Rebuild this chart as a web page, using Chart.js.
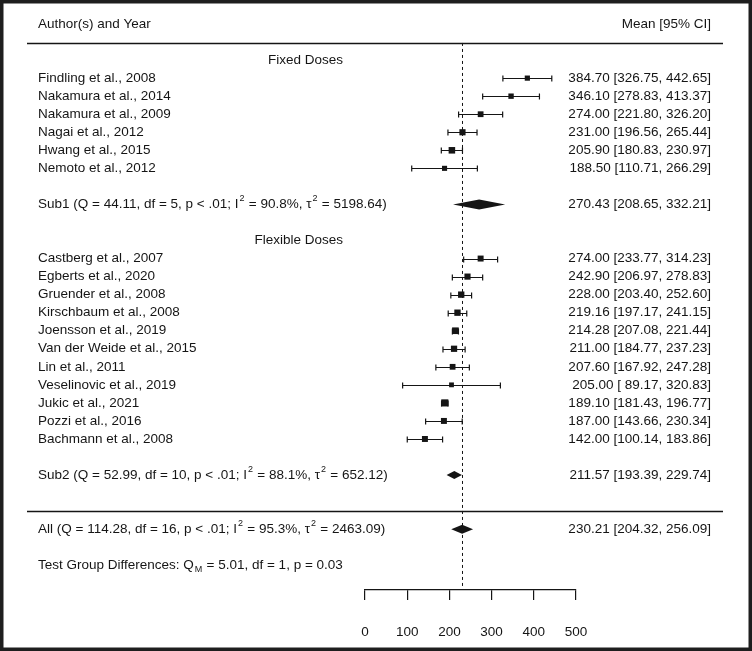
<!DOCTYPE html>
<html>
<head>
<meta charset="utf-8">
<script src="https://cdn.jsdelivr.net/npm/chart.js@4/dist/chart.umd.min.js"></script>
<style>
  html, body { margin: 0; padding: 0; background: #fff; }
  canvas { display: block; }
</style>
</head>
<body>
<canvas id="forest" width="752" height="651"></canvas>
<script>
// studies, per subgroup
var fixedStudies = ['Findling et al., 2008', 'Nakamura et al., 2014', 'Nakamura et al., 2009',
    'Nagai et al., 2012', 'Hwang et al., 2015', 'Nemoto et al., 2012'];
var fixedMean  = [384.70, 346.10, 274.00, 231.00, 205.90, 188.50];
var fixedLower = [326.75, 278.83, 221.80, 196.56, 180.83, 110.71];
var fixedUpper = [442.65, 413.37, 326.20, 265.44, 230.97, 266.29];
var fixedWeight = [5.4, 5.6, 6.0, 6.4, 6.8, 5.3];

var flexStudies = ['Castberg et al., 2007', 'Egberts et al., 2020', 'Gruender et al., 2008',
    'Kirschbaum et al., 2008', 'Joensson et al., 2019', 'Van der Weide et al., 2015',
    'Lin et al., 2011', 'Veselinovic et al., 2019', 'Jukic et al., 2021',
    'Pozzi et al., 2016', 'Bachmann et al., 2008'];
var flexMean  = [274.00, 242.90, 228.00, 219.16, 214.28, 211.00, 207.60, 205.00, 189.10, 187.00, 142.00];
var flexLower = [233.77, 206.97, 203.40, 197.17, 207.08, 184.77, 167.92, 89.17, 181.43, 143.66, 100.14];
var flexUpper = [314.23, 278.83, 252.60, 241.15, 221.44, 237.23, 247.28, 320.83, 196.77, 230.34, 183.86];
var flexWeight = [6.2, 6.4, 6.6, 6.6, 6.9, 6.5, 6.0, 5.0, 7.4, 6.2, 6.2];

// pooled estimates [mean, lower, upper]
var sub1 = [270.43, 208.65, 332.21];
var sub2 = [211.57, 193.39, 229.74];
var overall = [230.21, 204.32, 256.09];

var groupLabels = ['Fixed Doses', 'Flexible Doses'];
var xTicks = [0, 100, 200, 300, 400, 500];

var FONT = '13.5px "Liberation Sans", Arial, sans-serif';
var INK = '#151515';

function fmt(v) { return v.toFixed(2); }
function ciText(m, l, u) {
    var ls = fmt(l);
    if (ls.length < 6) ls = ' ' + ls;
    var ms = fmt(m);
    if (ms.length < 6) ms = ' ' + ms;
    return ms + ' [' + ls + ', ' + fmt(u) + ']';
}

// build rows (row index = line in the plot, top to bottom)
var rows = [];
fixedStudies.forEach(function (s, i) {
    rows.push({ row: i, label: s, m: fixedMean[i], l: fixedLower[i], u: fixedUpper[i], w: fixedWeight[i] });
});
flexStudies.forEach(function (s, i) {
    rows.push({ row: 10 + i, label: s, m: flexMean[i], l: flexLower[i], u: flexUpper[i], w: flexWeight[i] });
});

var pooled = [
    { row: 7, h: 5, v: sub1, segs: [{ t: 'Sub1 (Q = 44.11, df = 5, p < .01; I' }, { t: '2', sup: true }, { t: ' = 90.8%, \u03c4' }, { t: '2', sup: true }, { t: ' = 5198.64)' }] },
    { row: 22, h: 4, v: sub2, segs: [{ t: 'Sub2 (Q = 52.99, df = 10, p < .01; I' }, { t: '2', sup: true }, { t: ' = 88.1%, \u03c4' }, { t: '2', sup: true }, { t: ' = 652.12)' }] },
    { row: 25, h: 4.5, v: overall, segs: [{ t: 'All (Q = 114.28, df = 16, p < .01; I' }, { t: '2', sup: true }, { t: ' = 95.3%, \u03c4' }, { t: '2', sup: true }, { t: ' = 2463.09)' }] }
];

function drawRich(ctx, x, y, segs) {
    segs.forEach(function (s) {
        if (s.sup || s.sub) {
            ctx.font = '9px "Liberation Sans", Arial, sans-serif';
            ctx.fillText(s.t, x + 1, y + (s.sup ? -6 : 4));
            x += ctx.measureText(s.t).width + 1.5;
        } else {
            ctx.font = FONT;
            ctx.fillText(s.t, x, y);
            x += ctx.measureText(s.t).width;
        }
    });
    ctx.font = FONT;
}

var forestPlugin = {
    id: 'forest',
    beforeDatasetsDraw: function (chart) {
        var ctx = chart.ctx, xs = chart.scales.x, ys = chart.scales.y;
        ctx.save();
        // dashed reference line at overall estimate
        ctx.strokeStyle = INK;
        ctx.lineWidth = 1;
        ctx.setLineDash([3, 3]);
        var xr = Math.round(xs.getPixelForValue(overall[0])) + 0.5;
        ctx.beginPath();
        ctx.moveTo(xr, ys.getPixelForValue(-1.95));
        ctx.lineTo(xr, chart.chartArea.bottom);
        ctx.stroke();
        ctx.setLineDash([]);

        // confidence intervals
        ctx.lineWidth = 1.2;
        rows.forEach(function (r) {
            var y = Math.round(ys.getPixelForValue(r.row)) + 0.5;
            var a = xs.getPixelForValue(r.l), b = xs.getPixelForValue(r.u);
            ctx.beginPath();
            ctx.moveTo(a, y); ctx.lineTo(b, y);
            ctx.moveTo(a, y - 3); ctx.lineTo(a, y + 3);
            ctx.moveTo(b, y - 3); ctx.lineTo(b, y + 3);
            ctx.stroke();
        });

        // pooled diamonds
        ctx.fillStyle = INK;
        pooled.forEach(function (p) {
            var y = ys.getPixelForValue(p.row);
            ctx.beginPath();
            ctx.moveTo(xs.getPixelForValue(p.v[1]), y);
            ctx.lineTo(xs.getPixelForValue(p.v[0]), y - p.h);
            ctx.lineTo(xs.getPixelForValue(p.v[2]), y);
            ctx.lineTo(xs.getPixelForValue(p.v[0]), y + p.h);
            ctx.closePath();
            ctx.fill();
        });
        ctx.restore();
    },
    afterDraw: function (chart) {
        var ctx = chart.ctx, ys = chart.scales.y;
        var W = chart.width, H = chart.height;
        var leftX = 38, rightX = 711;
        ctx.save();
        ctx.fillStyle = INK;
        ctx.strokeStyle = INK;
        ctx.font = FONT;
        ctx.textBaseline = 'middle';

        // header
        ctx.textAlign = 'left';
        ctx.fillText('Author(s) and Year', leftX, ys.getPixelForValue(-3));
        ctx.textAlign = 'right';
        ctx.fillText('Mean [95% CI]', rightX, ys.getPixelForValue(-3));

        // horizontal rules
        ctx.lineWidth = 1.3;
        [-1.95, 24].forEach(function (r) {
            var y = Math.round(ys.getPixelForValue(r)) + 0.5;
            ctx.beginPath();
            ctx.moveTo(27, y); ctx.lineTo(723, y);
            ctx.stroke();
        });

        // group headings
        ctx.textAlign = 'right';
        ctx.fillText(groupLabels[0], 343, ys.getPixelForValue(-1));
        ctx.fillText(groupLabels[1], 343, ys.getPixelForValue(9));

        // study rows
        rows.forEach(function (r) {
            var y = ys.getPixelForValue(r.row);
            ctx.textAlign = 'left';
            ctx.fillText(r.label, leftX, y);
            ctx.textAlign = 'right';
            ctx.fillText(ciText(r.m, r.l, r.u), rightX, y);
        });

        // pooled rows
        pooled.forEach(function (p) {
            var y = ys.getPixelForValue(p.row);
            ctx.textAlign = 'left';
            drawRich(ctx, leftX, y, p.segs);
            ctx.textAlign = 'right';
            ctx.fillText(ciText(p.v[0], p.v[1], p.v[2]), rightX, y);
        });

        ctx.textAlign = 'left';
        drawRich(ctx, leftX, ys.getPixelForValue(27),
            [{ t: 'Test Group Differences: Q' }, { t: 'M', sub: true }, { t: ' = 5.01, df = 1, p = 0.03' }]);

        // frame
        ctx.lineWidth = 3.5;
        ctx.strokeStyle = '#1e1e1e';
        ctx.strokeRect(1.75, 1.75, W - 3.5, H - 3.5);
        ctx.restore();
    }
};

var ctx = document.getElementById('forest').getContext('2d');
var forest = new Chart(ctx, {
    type: 'scatter',
    data: {
        datasets: [{
            data: rows.map(function (r) { return { x: r.m, y: r.row }; }),
            pointStyle: 'rect',
            pointRadius: rows.map(function (r) { return r.w * 0.68; }),
            backgroundColor: INK,
            borderColor: INK,
            borderWidth: 0
        }]
    },
    options: {
        responsive: false,
        animation: false,
        events: [],
        layout: { padding: { left: 365, right: 176, top: 24, bottom: 0 } },
        plugins: { legend: { display: false }, tooltip: { enabled: false } },
        scales: {
            x: {
                type: 'linear',
                min: xTicks[0],
                max: xTicks[xTicks.length - 1],
                afterFit: function (scale) { scale.height = 61; },
                afterBuildTicks: function (scale) {
                    scale.ticks = xTicks.map(function (v) { return { value: v }; });
                },
                grid: { drawOnChartArea: false, drawTicks: true, tickLength: 10, color: INK, lineWidth: 1.2 },
                border: { display: true, color: INK, width: 1.2 },
                ticks: {
                    padding: 24,
                    color: INK,
                    maxRotation: 0,
                    font: { family: '"Liberation Sans", Arial, sans-serif', size: 13.5 }
                }
            },
            y: {
                type: 'linear',
                display: false,
                reverse: true,
                min: -3,
                max: 28.37
            }
        }
    },
    plugins: [forestPlugin]
});
</script>
</body>
</html>
